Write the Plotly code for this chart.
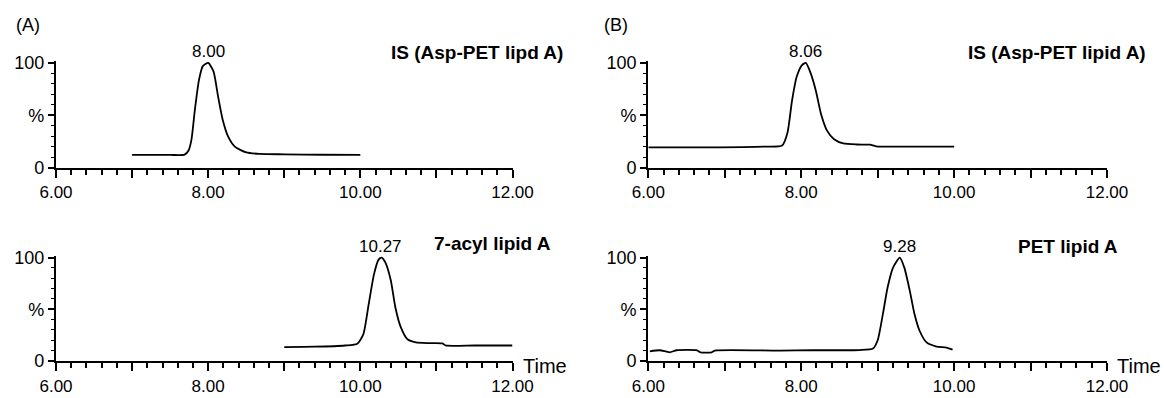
import plotly.graph_objects as go

# ---------------- data ----------------
# Panel A, top: internal standard (Asp-PET lipid A)
a_is_time = [7.00, 7.50, 7.69, 7.74, 7.78, 7.825, 7.88, 7.93, 8.00, 8.07, 8.13, 8.19,
             8.26, 8.35, 8.50, 8.68, 9.00, 9.50, 10.00]
a_is_int = [12.0, 12.0, 12.3, 16.0, 26.5, 55.0, 84.0, 97.0, 100.0, 92.0, 68.0, 46.0,
            30.0, 20.0, 14.4, 13.0, 12.6, 12.2, 12.0]

# Panel A, bottom: 7-acyl lipid A
a_acyl_time = [9.00, 9.40, 9.80, 9.96, 10.04, 10.11, 10.18, 10.24, 10.28, 10.33, 10.40,
               10.46, 10.53, 10.62, 10.73, 10.90, 11.08, 11.12, 11.50, 12.00]
a_acyl_int = [13.5, 13.8, 15.0, 16.7, 26.0, 55.0, 84.0, 98.0, 100.0, 95.0, 78.0,
              52.0, 33.0, 21.0, 18.0, 17.3, 17.0, 15.0, 15.0, 15.0]

# Panel B, top: internal standard (Asp-PET lipid A)
b_is_time = [6.00, 6.80, 7.53, 7.75, 7.82, 7.88, 7.94, 8.01, 8.06, 8.12, 8.19, 8.26,
             8.34, 8.43, 8.55, 8.73, 8.90, 8.98, 9.50, 10.00]
b_is_int = [19.2, 19.2, 20.0, 21.0, 33.0, 64.0, 86.5, 98.0, 100.0, 91.0, 74.0, 51.0,
            35.0, 27.0, 23.0, 22.0, 21.8, 20.3, 20.0, 20.0]

# Panel B, bottom: PET lipid A
b_pet_time = [6.02, 6.15, 6.28, 6.37, 6.63, 6.68, 6.83, 6.87, 7.72, 8.16, 8.76, 8.94,
              9.00, 9.07, 9.13, 9.20, 9.29, 9.35, 9.42, 9.48, 9.55, 9.64, 9.77, 9.90, 9.98]
b_pet_int = [9.4, 10.4, 8.4, 10.4, 10.4, 8.4, 8.4, 10.0, 10.0, 10.4, 10.6, 12.0,
             20.0, 46.0, 71.0, 90.0, 100.0, 90.0, 68.0, 46.0, 29.0, 18.0, 14.0, 13.0, 11.0]

# Peak apex labels
peak_times = [8.00, 10.27, 8.06, 9.28]
peak_labels = ["8.00", "10.27", "8.06", "9.28"]
trace_names = ["IS (Asp-PET lipd A)", "7-acyl lipid A", "IS (Asp-PET lipid A)", "PET lipid A"]

x_tickvals = [6, 7, 8, 9, 10, 11, 12]
x_ticktext = ["6.00", "", "8.00", "", "10.00", "", "12.00"]
y_tickvals = [0, 50, 100]
y_ticktext = ["0", "%", "100"]

# ---------------- figure ----------------
FONT = "Liberation Sans, Arial, Helvetica, sans-serif"
W, H = 1164, 398

x_dom_left = [56 / W, 512.5 / W]
x_dom_right = [648.3 / W, 1107 / W]
y_dom_top = [(H - 167.5) / H, (H - 61.4) / H]
y_dom_bot = [(H - 361) / H, (H - 256) / H]

panels = [
    (a_is_time, a_is_int, x_dom_left, y_dom_top),
    (a_acyl_time, a_acyl_int, x_dom_left, y_dom_bot),
    (b_is_time, b_is_int, x_dom_right, y_dom_top),
    (b_pet_time, b_pet_int, x_dom_right, y_dom_bot),
]

fig = go.Figure()
layout = dict(
    width=W, height=H,
    margin=dict(l=0, r=0, t=0, b=0, autoexpand=False),
    paper_bgcolor="white", plot_bgcolor="white",
    showlegend=False,
    font=dict(family=FONT, color="black", size=17),
)

annotations = []
for i, (xs, ys, xd, yd) in enumerate(panels):
    n = i + 1
    xa = "x" if n == 1 else f"x{n}"
    ya = "y" if n == 1 else f"y{n}"
    fig.add_trace(go.Scatter(
        x=xs, y=ys, mode="lines", name=trace_names[i],
        line=dict(color="black", width=1.8, shape="spline", smoothing=0.6),
        xaxis=xa, yaxis=ya, hoverinfo="x+y",
    ))
    layout["xaxis" if n == 1 else f"xaxis{n}"] = dict(
        domain=xd, anchor=ya, range=[6, 12], automargin=False,
        showline=True, linecolor="black", linewidth=2.4,
        showgrid=False, zeroline=False,
        ticks="outside", ticklen=8, tickwidth=1.8, tickcolor="black",
        tickvals=x_tickvals, ticktext=x_ticktext,
        tickfont=dict(family=FONT, size=17, color="black"),
        minor=dict(dtick=0.2, ticks="outside", ticklen=5, tickwidth=1.5,
                   tickcolor="black", showgrid=False),
        fixedrange=True,
    )
    layout["yaxis" if n == 1 else f"yaxis{n}"] = dict(
        domain=yd, anchor=xa, range=[0, 101.5], automargin=False,
        showline=True, linecolor="black", linewidth=2.4,
        showgrid=False, zeroline=False,
        ticks="outside", ticklen=6, tickwidth=1.8, tickcolor="black",
        tickvals=y_tickvals, ticktext=y_ticktext,
        tickfont=dict(family=FONT, size=18, color="black"),
        minor=dict(dtick=10, ticks="outside", ticklen=3, tickwidth=1.3,
                   tickcolor="black", showgrid=False),
        fixedrange=True,
    )
    # peak apex label
    annotations.append(dict(
        x=peak_times[i], y=100, xref=xa, yref=ya,
        text=peak_labels[i], showarrow=False,
        xanchor="center", yanchor="bottom", yshift=0,
        font=dict(family=FONT, size=17, color="black"),
    ))

# compound names (bold, right aligned)
name_pos = [(565, 53), (553, 243), (1148, 53), (1120, 246)]
for i, (px, py) in enumerate(name_pos):
    annotations.append(dict(
        x=px / W, y=(H - py) / H, xref="paper", yref="paper",
        text=f"<b>{trace_names[i]}</b>", showarrow=False,
        xanchor="right", yanchor="middle",
        font=dict(family=FONT, size=19, color="black"),
    ))

# panel letters
for txt, px in [("(A)", 14), ("(B)", 602)]:
    annotations.append(dict(
        x=px / W, y=(H - 25) / H, xref="paper", yref="paper",
        text=txt, showarrow=False, xanchor="left", yanchor="middle",
        font=dict(family=FONT, size=18, color="black"),
    ))

# "Time" axis titles
for px in [521, 1115]:
    annotations.append(dict(
        x=px / W, y=(H - 366) / H, xref="paper", yref="paper",
        text="Time", showarrow=False, xanchor="left", yanchor="middle",
        font=dict(family=FONT, size=20, color="black"),
    ))

layout["annotations"] = annotations
fig.update_layout(**layout)
fig.write_html("out.html")
